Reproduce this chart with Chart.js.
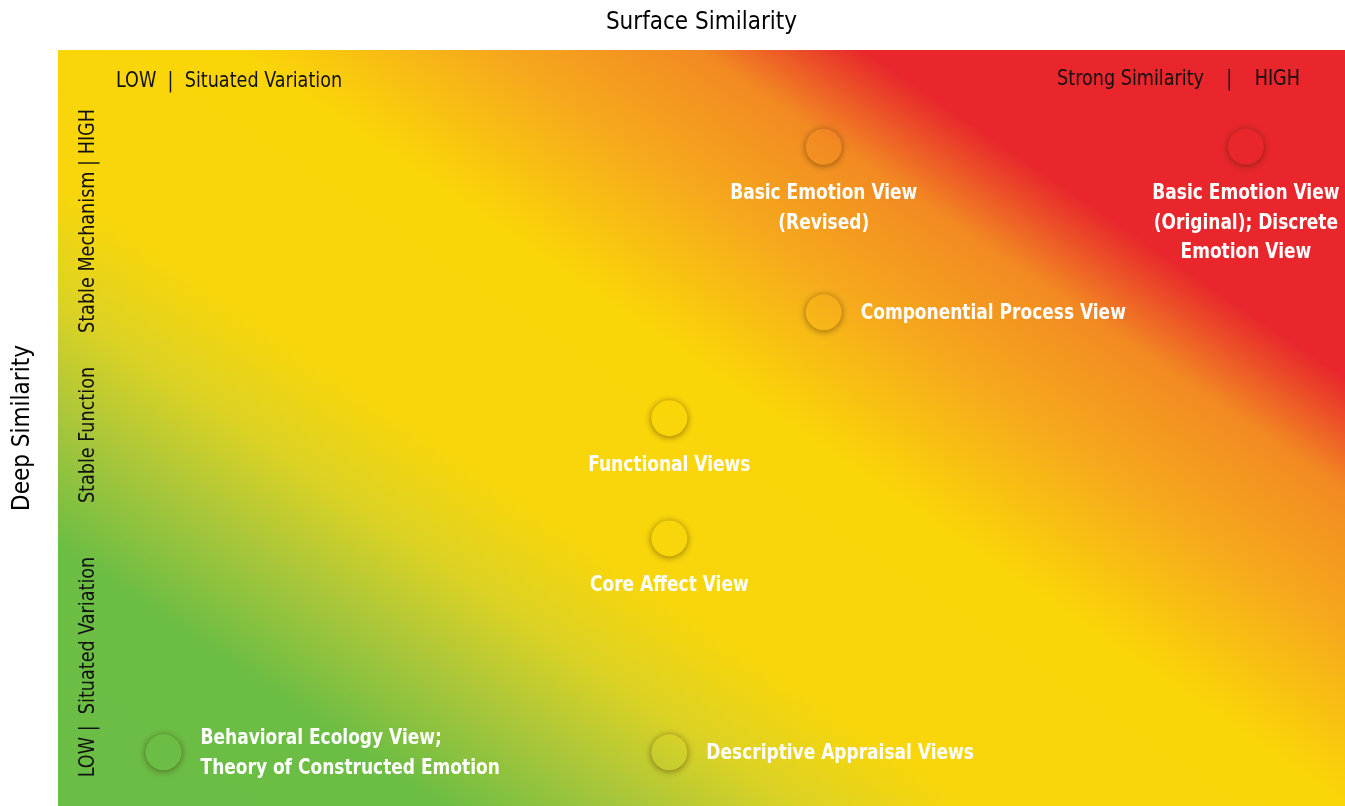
<!DOCTYPE html>
<html>
<head>
<meta charset="utf-8">
<script src="https://cdn.jsdelivr.net/npm/chart.js@4.4.1/dist/chart.umd.min.js"></script>
<style>
  html, body { margin: 0; padding: 0; background: #fff; }
  #wrap { width: 1345px; height: 806px; }
</style>
</head>
<body>
<div id="wrap"><canvas id="chart"></canvas></div>
<script>
const FONT = "'Liberation Sans Narrow', 'DejaVu Sans Condensed', 'Roboto', sans-serif"

// theories placed on surface (x) vs deep (y) similarity, 0-10 scale
const theories = [
  ['Basic Emotion View', '(Revised)'],
  ['Basic Emotion View', '(Original); Discrete', 'Emotion View'],
  ['Componential Process View'],
  ['Functional Views'],
  ['Core Affect View'],
  ['Behavioral Ecology View;', 'Theory of Constructed Emotion'],
  ['Descriptive Appraisal Views']
]
const surfaceSimilarity = [5.95, 9.23, 5.95, 4.75, 4.75, 0.82, 4.75]
const deepSimilarity = [8.72, 8.72, 6.53, 5.13, 3.54, 0.71, 0.71]

const xRangeLabels = ['LOW  |  Situated Variation', 'Strong Similarity    |    HIGH']
const yRangeLabels = ['LOW |  Situated Variation', 'Stable Function', 'Stable Mechanism | HIGH']

// where each label sits relative to its dot
const labelSide = ['below', 'below', 'right', 'below', 'below', 'right', 'right']

function areaGradient(ctx, area) {
  // diagonal: green bottom-left -> yellow -> orange -> red top-right
  const dx = 0.562, dy = -0.827
  const len = (area.right - area.left) * dx + (area.top - area.bottom) * dy
  const x0 = area.left, y0 = area.bottom
  const g = ctx.createLinearGradient(x0, y0, x0 + dx * len, y0 + dy * len)
  g.addColorStop(0, '#6abd45')
  g.addColorStop(0.16, '#6cbd44')
  g.addColorStop(0.24, '#a9c63a')
  g.addColorStop(0.31, '#dcd224')
  g.addColorStop(0.38, '#f8d60b')
  g.addColorStop(0.54, '#fad508')
  g.addColorStop(0.64, '#f6aa1c')
  g.addColorStop(0.73, '#f28a22')
  g.addColorStop(0.80, '#e8262c')
  g.addColorStop(1, '#e8262c')
  return g
}

// condensed look: squeeze text horizontally
function squeezedText(ctx, text, x, y, sx) {
  ctx.save()
  ctx.translate(x, y)
  ctx.scale(sx, 1)
  ctx.fillText(text, 0, 0)
  ctx.restore()
}

const backgroundPlugin = {
  id: 'bg',
  beforeDatasetsDraw(chart) {
    const { ctx, chartArea } = chart
    ctx.save()
    ctx.fillStyle = areaGradient(ctx, chartArea)
    ctx.fillRect(chartArea.left, chartArea.top, chartArea.right - chartArea.left, chartArea.bottom - chartArea.top)

    ctx.fillStyle = '#111'
    ctx.font = '22px ' + FONT
    ctx.textBaseline = 'middle'
    ctx.textAlign = 'left'
    squeezedText(ctx, xRangeLabels[0], chartArea.left + 58, chartArea.top + 31, 0.89)
    ctx.textAlign = 'right'
    squeezedText(ctx, xRangeLabels[1], chartArea.right - 45, chartArea.top + 29, 0.89)

    const yCenters = [667, 435, 221]
    ctx.textAlign = 'center'
    yRangeLabels.forEach((t, i) => {
      ctx.save()
      ctx.translate(chartArea.left + 30, yCenters[i])
      ctx.rotate(-Math.PI / 2)
      squeezedText(ctx, t, 0, 0, 0.89)
      ctx.restore()
    })
    ctx.restore()
  },
  beforeDatasetDraw(chart) {
    const ctx = chart.ctx
    ctx.save()
    ctx.shadowColor = 'rgba(60, 30, 0, 0.55)'
    ctx.shadowBlur = 7
    ctx.shadowOffsetX = 0
    ctx.shadowOffsetY = 1
  },
  afterDatasetDraw(chart) {
    chart.ctx.restore()
  },
  afterDatasetsDraw(chart) {
    const { ctx } = chart
    const meta = chart.getDatasetMeta(0)
    ctx.save()
    ctx.fillStyle = '#fff'
    ctx.font = 'bold 22px ' + FONT
    ctx.textBaseline = 'middle'
    const lh = 29.5
    meta.data.forEach((pt, i) => {
      const lines = theories[i]
      if (labelSide[i] === 'below') {
        ctx.textAlign = 'center'
        lines.forEach((l, j) => squeezedText(ctx, l, pt.x, pt.y + 47 + j * lh, 0.86))
      } else {
        ctx.textAlign = 'left'
        const y0 = pt.y + 1 - (lines.length - 1) * lh / 2
        lines.forEach((l, j) => squeezedText(ctx, l, pt.x + 37, y0 + j * lh, 0.86))
      }
    })
    ctx.restore()
  }
}

const points = surfaceSimilarity.map((x, i) => ({ x: x, y: deepSimilarity[i] }))

new Chart(document.getElementById('chart'), {
  type: 'scatter',
  data: {
    datasets: [{
      data: points,
      pointRadius: 18,
      pointHoverRadius: 18,
      borderWidth: 0,
      backgroundColor: (c) => c.chart.chartArea ? areaGradient(c.chart.ctx, c.chart.chartArea) : '#f7d70c'
    }]
  },
  options: {
    responsive: true,
    maintainAspectRatio: false,
    animation: false,
    layout: { padding: 0, autoPadding: false },
    plugins: { legend: { display: false }, tooltip: { enabled: false } },
    scales: {
      x: {
        type: 'linear',
        position: 'top',
        min: 0, max: 10,
        grid: { display: false },
        border: { display: false },
        ticks: { display: false },
        title: {
          display: true,
          text: 'Surface Similarity',
          color: '#000',
          font: { family: FONT, size: 24 },
          padding: { top: 8, bottom: 0 }
        },
        afterFit(scale) { scale.height = 50 }
      },
      y: {
        type: 'linear',
        min: 0, max: 10,
        grid: { display: false },
        border: { display: false },
        ticks: { display: false },
        title: {
          display: true,
          text: 'Deep Similarity',
          color: '#000',
          font: { family: FONT, size: 24 },
          padding: { top: 8, bottom: 0 }
        },
        afterFit(scale) { scale.width = 58 }
      }
    }
  },
  plugins: [backgroundPlugin]
})
</script>
</body>
</html>
